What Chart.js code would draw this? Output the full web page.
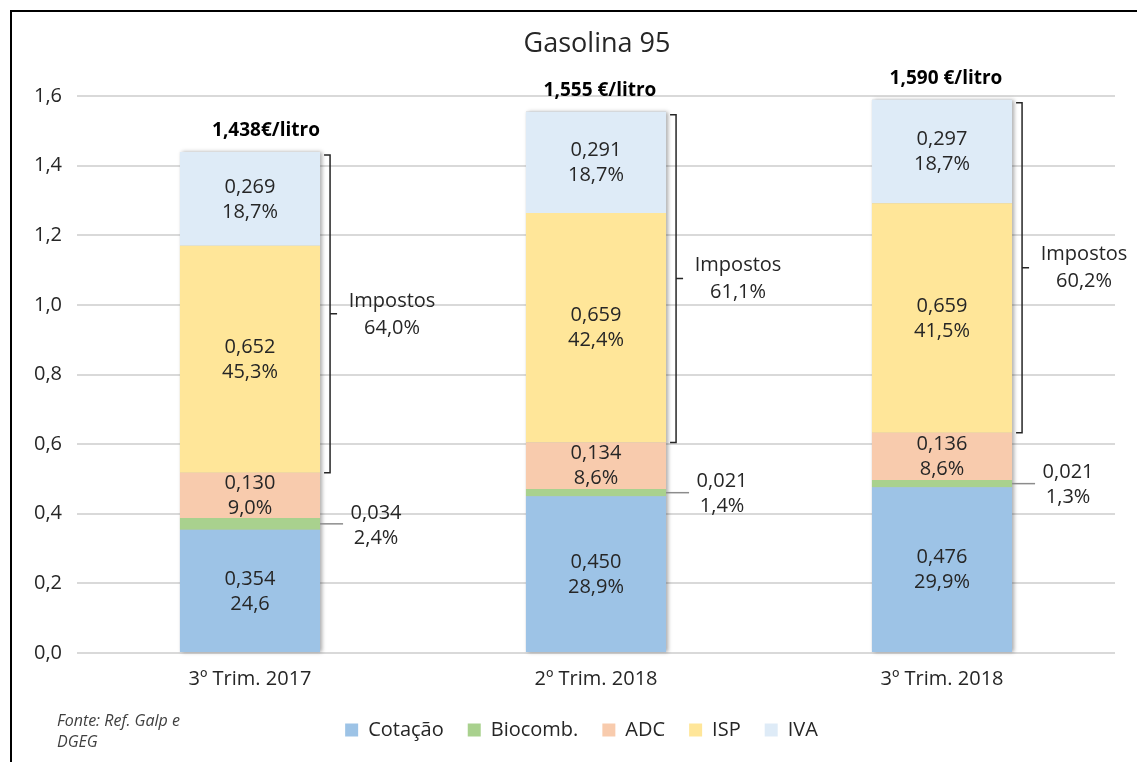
<!DOCTYPE html>
<html>
<head>
<meta charset="utf-8">
<script src="https://cdn.jsdelivr.net/npm/chart.js@4/dist/chart.umd.min.js"></script>
<style>
  html, body { margin: 0; padding: 0; background: #fff; }
  #wrap { position: relative; width: 1137px; height: 762px; overflow: hidden; }
  #frame { position: absolute; left: 10px; top: 10px; width: 1140px; height: 760px;
           border-left: 2px solid #000; border-top: 2px solid #000; box-sizing: border-box; }
  canvas { position: absolute; left: 0; top: 0; }
  #source { position: absolute; left: 57px; top: 710px; font: italic 16px "Open Sans", sans-serif;
            color: #404040; line-height: 21px; }
</style>
</head>
<body>
<div id="wrap">
  <div id="frame"></div>
  <canvas id="c" width="1137" height="762"></canvas>
  <div id="source">Fonte: Ref. Galp e<br>DGEG</div>
</div>
<script>
// ---- Data ----
const chartTitle = "Gasolina 95";
const categories = ["3º Trim. 2017", "2º Trim. 2018", "3º Trim. 2018"];
const cotacao  = [0.354, 0.450, 0.476];
const biocomb  = [0.034, 0.021, 0.021];
const adc      = [0.130, 0.134, 0.136];
const isp      = [0.652, 0.659, 0.659];
const iva      = [0.269, 0.291, 0.297];
const cotacaoPct = ["24,6", "28,9%", "29,9%"];
const biocombPct = ["2,4%", "1,4%", "1,3%"];
const adcPct     = ["9,0%", "8,6%", "8,6%"];
const ispPct     = ["45,3%", "42,4%", "41,5%"];
const ivaPct     = ["18,7%", "18,7%", "18,7%"];
const impostosPct = ["64,0%", "61,1%", "60,2%"];
const totalLabels = ["1,438€/litro", "1,555 €/litro", "1,590 €/litro"];
const yTicks = [0, 0.2, 0.4, 0.6, 0.8, 1.0, 1.2, 1.4, 1.6];

const FONT = '"Open Sans", sans-serif';
const TXT = '#262626';

function fmt3(v) { return v.toFixed(3).replace('.', ','); }

const pctByDataset = [cotacaoPct, biocombPct, adcPct, ispPct, ivaPct];

// shift legend to match reference centring
const legendShift = {
  id: 'legendShift',
  afterLayout(chart) {
    if (chart.legend) { chart.legend.left += 19; chart.legend.right += 19; }
  }
};

// shadow behind each bar stack
const shadowPlugin = {
  id: 'shadow',
  beforeDatasetsDraw(chart) {
    const ctx = chart.ctx;
    const first = chart.getDatasetMeta(0), last = chart.getDatasetMeta(chart.data.datasets.length - 1);
    ctx.save();
    ctx.shadowColor = 'rgba(0,0,0,0.35)';
    ctx.shadowBlur = 4;
    ctx.shadowOffsetX = 2;
    ctx.shadowOffsetY = 0;
    ctx.fillStyle = '#bbb';
    first.data.forEach((el, j) => {
      const top = last.data[j].y;
      const bottom = el.base;
      ctx.fillRect(el.x - el.width / 2, top, el.width, bottom - top);
    });
    ctx.restore();
  }
};

const labelPlugin = {
  id: 'labels',
  afterDatasetsDraw(chart) {
    const ctx = chart.ctx;
    ctx.save();
    ctx.textAlign = 'center';
    ctx.textBaseline = 'middle';
    ctx.fillStyle = TXT;
    // title
    ctx.font = '27px ' + FONT;
    ctx.fillText(chartTitle, 597, 44);
    ctx.font = '20px ' + FONT;
    const ds = chart.data.datasets;
    // in-segment labels
    ds.forEach((d, i) => {
      if (i === 1) return;
      const meta = chart.getDatasetMeta(i);
      meta.data.forEach((el, j) => {
        const cy = (el.y + el.base) / 2;
        ctx.fillText(fmt3(d.data[j]), el.x, cy - 12);
        ctx.fillText(pctByDataset[i][j], el.x, cy + 13);
      });
    });
    // biocomb outside labels with leader line
    const bm = chart.getDatasetMeta(1);
    bm.data.forEach((el, j) => {
      const right = el.x + el.width / 2;
      const gy = (el.y + el.base) / 2;
      ctx.strokeStyle = '#8c8c8c';
      ctx.lineWidth = 1.5;
      ctx.beginPath();
      ctx.moveTo(right, gy);
      ctx.lineTo(right + 23, gy);
      ctx.stroke();
      ctx.fillText(fmt3(biocomb[j]), right + 56, gy - 11);
      ctx.fillText(biocombPct[j], right + 56, gy + 14);
    });
    // brackets for taxes
    const ispMeta = chart.getDatasetMeta(3), ivaMeta = chart.getDatasetMeta(4);
    ispMeta.data.forEach((el, j) => {
      const right = el.x + el.width / 2;
      const lx = right + 10;
      const top = ivaMeta.data[j].y + 3;
      const bottom = el.base;
      const mid = (top + bottom) / 2;
      ctx.strokeStyle = '#262626';
      ctx.lineWidth = 1.5;
      ctx.beginPath();
      ctx.moveTo(lx - 6, top); ctx.lineTo(lx, top); ctx.lineTo(lx, bottom); ctx.lineTo(lx - 6, bottom);
      ctx.moveTo(lx, mid); ctx.lineTo(lx + 7, mid);
      ctx.stroke();
      ctx.fillText('Impostos', lx + 62, mid - 13);
      ctx.fillText(impostosPct[j], lx + 62, mid + 14);
    });
    // totals
    ctx.font = 'bold 19px ' + FONT;
    ctx.fillStyle = '#000';
    ivaMeta.data.forEach((el, j) => {
      ctx.fillText(totalLabels[j], el.x + (j === 0 ? 16 : 4), el.y - 21);
    });
    ctx.restore();
  }
};

const colors = ['#9dc3e6', '#a9d18e', '#f8cbad', '#ffe699', '#deebf7'];
const names = ['Cotação', 'Biocomb.', 'ADC', 'ISP', 'IVA'];
const series = [cotacao, biocomb, adc, isp, iva];

new Chart(document.getElementById('c'), {
  type: 'bar',
  data: {
    labels: categories,
    datasets: series.map((s, i) => ({
      label: names[i],
      data: s,
      backgroundColor: colors[i],
      borderWidth: 0,
      barPercentage: 1,
      categoryPercentage: 0.405
    }))
  },
  options: {
    responsive: false,
    animation: false,
    layout: { padding: { left: 10, right: 22, top: 96, bottom: 12 } },
    plugins: {
      title: { display: false },
      legend: {
        position: 'bottom',
        labels: {
          color: '#262626', font: { family: FONT, size: 20 },
          boxWidth: 13, boxHeight: 13, padding: 24
        }
      },
      tooltip: { enabled: false }
    },
    scales: {
      x: {
        stacked: true,
        grid: { display: false },
        border: { display: false },
        ticks: { color: '#262626', font: { family: FONT, size: 20 }, padding: 6 },
        afterFit(scale) { scale.height = 43; }
      },
      y: {
        stacked: true,
        min: 0, max: 1.6,
        afterBuildTicks(scale) { scale.ticks = yTicks.map(v => ({ value: v })); },
        afterFit(scale) { scale.width = 67; },
        grid: { color: '#d9d9d9', lineWidth: 2, drawTicks: false },
        border: { display: false },
        ticks: {
          color: '#262626', font: { family: FONT, size: 20 }, padding: 15,
          callback: v => v.toFixed(1).replace('.', ',')
        }
      }
    }
  },
  plugins: [legendShift, shadowPlugin, labelPlugin]
});
</script>
</body>
</html>
